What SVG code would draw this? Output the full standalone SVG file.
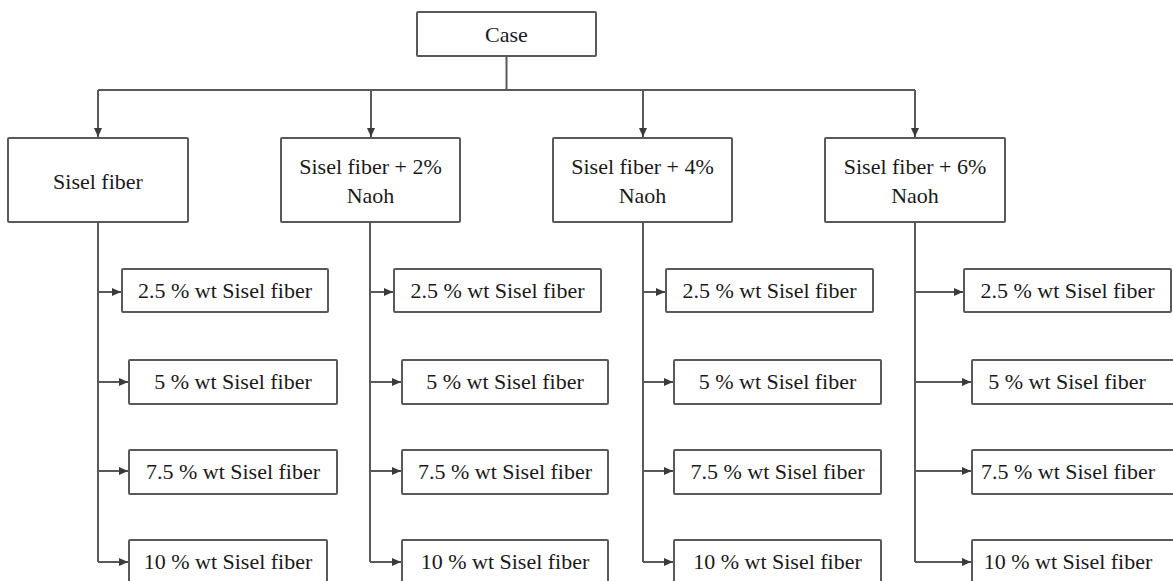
<svg xmlns="http://www.w3.org/2000/svg" width="1173" height="581" viewBox="0 0 1173 581">
<style>
.box{fill:#fff;stroke:#595959;stroke-width:2}
.t{font-size:22px;fill:#1a1a1a;text-anchor:middle}
.c{fill:none;stroke:#595959;stroke-width:2}
.a{fill:none;stroke:#595959;stroke-width:2;marker-end:url(#ah)}
</style>
<defs>
<marker id="ah" markerUnits="userSpaceOnUse" markerWidth="10" markerHeight="10" refX="9" refY="5" orient="auto">
<path d="M0,1 L9,5 L0,9 Z" fill="#3a3a3a"/>
</marker>
</defs>
<rect width="1173" height="581" fill="#fff"/>
<g id="connectors">
<path class="c" d="M506.5,56 V90"/>
<path class="c" d="M98,90 H915"/>
<path class="a" d="M98,90 V137"/>
<path class="a" d="M371,90 V137"/>
<path class="a" d="M643,90 V137"/>
<path class="a" d="M915,90 V137"/>
<path class="c" d="M98,222 V562"/>
<path class="a" d="M98,292 H121"/>
<path class="a" d="M98,382 H128"/>
<path class="a" d="M98,471 H128"/>
<path class="a" d="M98,562 H128"/>
<path class="c" d="M370,222 V562"/>
<path class="a" d="M370,292 H393"/>
<path class="a" d="M370,382 H401"/>
<path class="a" d="M370,471 H401"/>
<path class="a" d="M370,562 H401"/>
<path class="c" d="M643,222 V562"/>
<path class="a" d="M643,292 H665"/>
<path class="a" d="M643,382 H673"/>
<path class="a" d="M643,471 H673"/>
<path class="a" d="M643,562 H673"/>
<path class="c" d="M915,222 V562"/>
<path class="a" d="M915,292 H963"/>
<path class="a" d="M915,382 H971"/>
<path class="a" d="M915,471 H971"/>
<path class="a" d="M915,562 H971"/>
</g>
<g id="nodes" font-family="Liberation Serif">
<g id="case"><rect class="box" x="417" y="12" width="179" height="44" rx="1"/><text class="t" x="506.5" y="42">Case</text></g>
<g id="n1"><rect class="box" x="8" y="138" width="180" height="84" rx="1"/><text class="t" x="98" y="189">Sisel fiber</text></g>
<g id="n2"><rect class="box" x="281" y="138" width="179" height="84" rx="1"/><text class="t" x="370.5" y="174">Sisel fiber + 2%</text><text class="t" x="370.5" y="203">Naoh</text></g>
<g id="n3"><rect class="box" x="553" y="138" width="179" height="84" rx="1"/><text class="t" x="642.5" y="174">Sisel fiber + 4%</text><text class="t" x="642.5" y="203">Naoh</text></g>
<g id="n4"><rect class="box" x="825" y="138" width="180" height="84" rx="1"/><text class="t" x="915" y="174">Sisel fiber + 6%</text><text class="t" x="915" y="203">Naoh</text></g>

<g id="c1a"><rect class="box" x="122" y="269" width="206" height="43" rx="1"/><text class="t" x="225" y="298">2.5 % wt Sisel fiber</text></g>
<g id="c1b"><rect class="box" x="129" y="360" width="208" height="44" rx="1"/><text class="t" x="233" y="389">5 % wt Sisel fiber</text></g>
<g id="c1c"><rect class="box" x="129" y="450" width="208" height="44" rx="1"/><text class="t" x="233" y="479">7.5 % wt Sisel fiber</text></g>
<g id="c1d"><rect class="box" x="129" y="540" width="198" height="50" rx="1"/><text class="t" x="228" y="569">10 % wt Sisel fiber</text></g>

<g id="c2a"><rect class="box" x="394" y="269" width="207" height="43" rx="1"/><text class="t" x="497.5" y="298">2.5 % wt Sisel fiber</text></g>
<g id="c2b"><rect class="box" x="402" y="360" width="206" height="44" rx="1"/><text class="t" x="505" y="389">5 % wt Sisel fiber</text></g>
<g id="c2c"><rect class="box" x="402" y="450" width="206" height="44" rx="1"/><text class="t" x="505" y="479">7.5 % wt Sisel fiber</text></g>
<g id="c2d"><rect class="box" x="402" y="540" width="206" height="50" rx="1"/><text class="t" x="505" y="569">10 % wt Sisel fiber</text></g>

<g id="c3a"><rect class="box" x="666" y="269" width="207" height="43" rx="1"/><text class="t" x="769.5" y="298">2.5 % wt Sisel fiber</text></g>
<g id="c3b"><rect class="box" x="674" y="360" width="207" height="44" rx="1"/><text class="t" x="777.5" y="389">5 % wt Sisel fiber</text></g>
<g id="c3c"><rect class="box" x="674" y="450" width="207" height="44" rx="1"/><text class="t" x="777.5" y="479">7.5 % wt Sisel fiber</text></g>
<g id="c3d"><rect class="box" x="674" y="540" width="207" height="50" rx="1"/><text class="t" x="777.5" y="569">10 % wt Sisel fiber</text></g>

<g id="c4a"><rect class="box" x="964" y="269" width="207" height="43" rx="1"/><text class="t" x="1067.5" y="298">2.5 % wt Sisel fiber</text></g>
<g id="c4b"><rect class="box" x="972" y="360" width="208" height="44" rx="1"/><text class="t" x="1067" y="389">5 % wt Sisel fiber</text></g>
<g id="c4c"><rect class="box" x="972" y="450" width="208" height="44" rx="1"/><text class="t" x="1068" y="479">7.5 % wt Sisel fiber</text></g>
<g id="c4d"><rect class="box" x="972" y="540" width="208" height="50" rx="1"/><text class="t" x="1068" y="569">10 % wt Sisel fiber</text></g>
</g>
</svg>
